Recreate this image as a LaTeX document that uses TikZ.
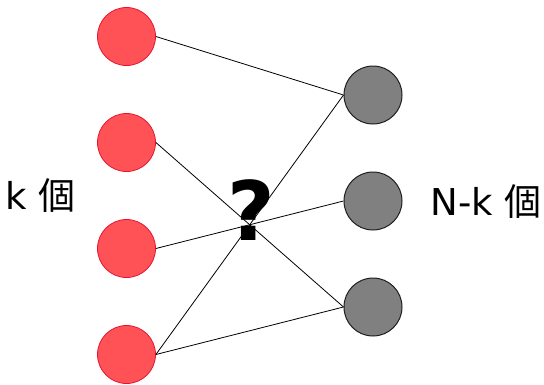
\documentclass[tikz,border=0pt]{standalone}
\usepackage{fontspec}
\setmainfont{DejaVu Sans}
\newfontfamily\cjkfont{Noto Sans CJK JP}
\definecolor{redfill}{RGB}{255,82,86}
\definecolor{redline}{RGB}{230,20,50}
\definecolor{grayfill}{RGB}{128,128,128}
\definecolor{grayline}{RGB}{30,30,30}
\begin{document}
\begin{tikzpicture}[x=1pt,y=1pt,
  redball/.style={circle,minimum size=58pt,inner sep=0pt,fill=redfill,draw=redline,line width=0.8pt},
  grayball/.style={circle,minimum size=58pt,inner sep=0pt,fill=grayfill,draw=grayline,line width=1pt},
  link/.style={draw=black,line width=0.8pt},
  lbl/.style={font=\fontsize{37}{40}\selectfont,inner sep=0pt}]
\useasboundingbox (0,0) rectangle (544,-384);
% left group
\node[redball] (r1) at (126.5,-36.5) {};
\node[redball] (r2) at (126.5,-142.5) {};
\node[redball] (r3) at (126.5,-248.5) {};
\node[redball] (r4) at (126.5,-354.5) {};
% right group
\node[grayball] (g1) at (373,-95) {};
\node[grayball] (g2) at (373,-201) {};
\node[grayball] (g3) at (373,-307) {};
% labels
\node[lbl] (lk) at (40.5,-196) {k \cjkfont 個};
\node[lbl] (lnk) at (486,-202) {N-k \cjkfont 個};
\node[font=\bfseries\fontsize{82}{86}\selectfont,inner sep=0pt] (q) at (251,-210) {?};
% connections
\path[link] (r1.east) -- (g1.west);
\path[link] (r2.east) -- (g3.west);
\path[link] (r3.east) -- (g2.west);
\path[link] (r4.east) -- (g1.west);
\path[link] (r4.east) -- (g3.west);
\end{tikzpicture}
\end{document}
